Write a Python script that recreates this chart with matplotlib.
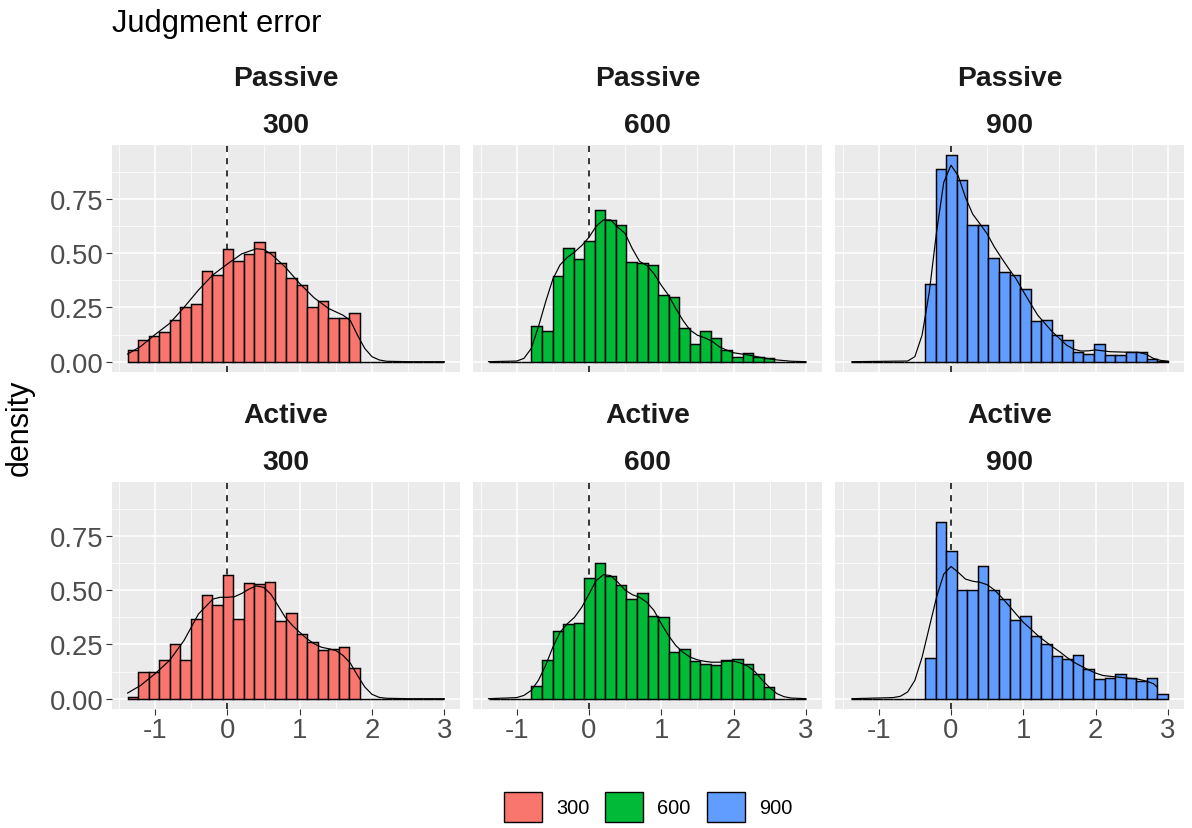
import numpy as np
import matplotlib
matplotlib.use("Agg")
import matplotlib.pyplot as plt
from matplotlib.patches import Patch

plt.rcParams['font.family'] = ['Liberation Sans', 'DejaVu Sans']
plt.rcParams['axes.unicode_minus'] = False

# histogram bins shared by all panels
BIN_START = -1.38
BIN_WIDTH = 0.146
N_BINS = 30

conditions = ['Passive', 'Active']
intervals = ['300', '600', '900']
fills = {'300': '#F8766D', '600': '#00BA38', '900': '#619CFF'}

# bar heights (density) per bin
hist_passive_300 = [0.052, 0.102, 0.119, 0.135, 0.191, 0.254, 0.266, 0.419, 0.399, 0.517,
                    0.463, 0.495, 0.549, 0.505, 0.453, 0.384, 0.355, 0.254, 0.278, 0.203,
                    0.203, 0.226, 0, 0, 0, 0, 0, 0, 0, 0]
hist_passive_600 = [0, 0, 0, 0, 0.164, 0.141, 0.396, 0.523, 0.472, 0.555,
                    0.700, 0.654, 0.630, 0.459, 0.453, 0.446, 0.307, 0.297, 0.156, 0.083,
                    0.142, 0.107, 0.055, 0.021, 0.040, 0.020, 0.017, 0, 0, 0]
hist_passive_900 = [0, 0, 0, 0, 0, 0, 0, 0.358, 0.887, 0.951,
                    0.835, 0.628, 0.628, 0.477, 0.413, 0.398, 0.335, 0.187, 0.194, 0.122,
                    0.099, 0.043, 0.035, 0.081, 0.029, 0.029, 0.044, 0.044, 0.011, 0.004]
hist_active_300 = [0.008, 0.124, 0.124, 0.178, 0.254, 0.178, 0.369, 0.478, 0.432, 0.570,
                   0.369, 0.533, 0.527, 0.539, 0.358, 0.394, 0.299, 0.260, 0.225, 0.228,
                   0.237, 0.142, 0, 0, 0, 0, 0, 0, 0, 0]
hist_active_600 = [0, 0, 0, 0, 0.057, 0.179, 0.311, 0.345, 0.348, 0.556,
                   0.623, 0.565, 0.524, 0.461, 0.485, 0.380, 0.378, 0.217, 0.230, 0.172,
                   0.158, 0.156, 0.179, 0.184, 0.161, 0.115, 0.054, 0, 0, 0]
hist_active_900 = [0, 0, 0, 0, 0, 0, 0, 0.188, 0.816, 0.678,
                   0.501, 0.501, 0.609, 0.502, 0.458, 0.363, 0.380, 0.289, 0.253, 0.198,
                   0.185, 0.202, 0.135, 0.092, 0.095, 0.115, 0.095, 0.081, 0.093, 0.020]

# density curves, read at a few x positions
dens_x_passive_300 = [-1.38, -1.2, -1.0, -0.8, -0.6, -0.4, -0.2, 0.0, 0.2, 0.4, 0.5, 0.6, 0.8,
                      1.0, 1.2, 1.4, 1.6, 1.7, 1.8, 1.9, 2.0, 2.1, 2.2, 2.5, 3.0]
dens_y_passive_300 = [0.035, 0.07, 0.125, 0.176, 0.25, 0.33, 0.40, 0.45, 0.497, 0.52, 0.517, 0.497, 0.436,
                      0.36, 0.294, 0.245, 0.214, 0.19, 0.122, 0.061, 0.023, 0.008, 0.002, 0, 0]

dens_x_passive_600 = [-1.39, -1.0, -0.9, -0.8, -0.7, -0.6, -0.5, -0.4, -0.3, -0.2, -0.1,
                      0.0, 0.1, 0.2, 0.3, 0.4, 0.5, 0.6, 0.7, 0.8, 0.9, 1.0, 1.1, 1.2, 1.3, 1.4,
                      1.5, 1.6, 1.7, 1.8, 1.9, 2.0, 2.2, 2.4, 2.6, 2.8, 3.0]
dens_y_passive_600 = [0, 0.003, 0.015, 0.06, 0.16, 0.275, 0.38, 0.446, 0.48, 0.505, 0.535,
                      0.573, 0.624, 0.653, 0.653, 0.619, 0.59, 0.52, 0.462, 0.443, 0.405, 0.352,
                      0.306, 0.245, 0.19, 0.145, 0.122, 0.11, 0.095, 0.069, 0.054, 0.041,
                      0.031, 0.018, 0.008, 0.002, 0]

dens_x_passive_900 = [-1.37, -0.6, -0.5, -0.4, -0.3, -0.2, -0.1,
                      0.0, 0.1, 0.2, 0.3, 0.4, 0.5, 0.6, 0.7, 0.8, 0.9, 1.0, 1.1, 1.2, 1.3, 1.4,
                      1.5, 1.6, 1.7, 1.8, 1.9, 2.0, 2.2, 2.4, 2.6, 2.7, 2.8, 2.9, 3.0]
dens_y_passive_900 = [0, 0.003, 0.023, 0.122, 0.321, 0.596, 0.826,
                      0.905, 0.856, 0.757, 0.68, 0.635, 0.589, 0.528, 0.477, 0.428, 0.382, 0.324,
                      0.268, 0.214, 0.176, 0.138, 0.107, 0.076, 0.057, 0.049, 0.05, 0.054,
                      0.046, 0.044, 0.043, 0.034, 0.015, 0.006, 0.002]

dens_x_active_300 = [-1.38, -1.2, -1.0, -0.8, -0.6, -0.4, -0.2, -0.1,
                     0.0, 0.1, 0.2, 0.3, 0.4, 0.5, 0.6, 0.7, 0.8, 0.9, 1.0, 1.1, 1.2, 1.3, 1.4,
                     1.5, 1.6, 1.7, 1.8, 1.9, 2.0, 2.1, 2.2, 2.5, 3.0]
dens_y_active_300 = [0.026, 0.061, 0.115, 0.176, 0.268, 0.39, 0.459, 0.467,
                     0.467, 0.47, 0.485, 0.505, 0.519, 0.513, 0.482, 0.429, 0.375, 0.337, 0.306,
                     0.276, 0.253, 0.237, 0.23, 0.222, 0.199, 0.164, 0.107, 0.054, 0.02, 0.006,
                     0.002, 0, 0]

dens_x_active_600 = [-1.39, -1.0, -0.9, -0.8, -0.7, -0.6, -0.5, -0.4, -0.3, -0.2, -0.1,
                     0.0, 0.1, 0.2, 0.3, 0.4, 0.5, 0.6, 0.7, 0.8, 0.9, 1.0, 1.1, 1.2, 1.3, 1.4,
                     1.5, 1.6, 1.7, 1.8, 1.9, 2.0, 2.1, 2.2, 2.3, 2.4, 2.5, 2.6, 2.7, 2.8, 3.0]
dens_y_active_600 = [0, 0.005, 0.015, 0.038, 0.084, 0.153, 0.237, 0.306, 0.345, 0.375, 0.421,
                     0.482, 0.544, 0.571, 0.567, 0.536, 0.5, 0.479, 0.467, 0.444, 0.406, 0.345,
                     0.291, 0.245, 0.214, 0.191, 0.179, 0.172, 0.168, 0.168, 0.173, 0.173,
                     0.164, 0.149, 0.123, 0.084, 0.051, 0.023, 0.009, 0.003, 0]

dens_x_active_900 = [-1.37, -0.8, -0.7, -0.6, -0.5, -0.4, -0.3, -0.2, -0.1,
                     0.0, 0.1, 0.2, 0.3, 0.4, 0.5, 0.6, 0.7, 0.8, 0.9, 1.0, 1.1, 1.2, 1.3, 1.4,
                     1.5, 1.6, 1.7, 1.8, 1.9, 2.0, 2.1, 2.2, 2.3, 2.4, 2.5, 2.6, 2.7, 2.8, 2.85]
dens_y_active_900 = [0, 0.005, 0.011, 0.031, 0.084, 0.191, 0.329, 0.467, 0.574,
                     0.609, 0.582, 0.551, 0.541, 0.536, 0.525, 0.501, 0.467, 0.429, 0.39, 0.352,
                     0.322, 0.291, 0.265, 0.24, 0.217, 0.191, 0.168, 0.15, 0.133, 0.118, 0.107,
                     0.103, 0.1, 0.096, 0.093, 0.089, 0.081, 0.069, 0.054]

hists = {('Passive', '300'): hist_passive_300, ('Passive', '600'): hist_passive_600,
         ('Passive', '900'): hist_passive_900, ('Active', '300'): hist_active_300,
         ('Active', '600'): hist_active_600, ('Active', '900'): hist_active_900}
dens = {('Passive', '300'): (dens_x_passive_300, dens_y_passive_300),
        ('Passive', '600'): (dens_x_passive_600, dens_y_passive_600),
        ('Passive', '900'): (dens_x_passive_900, dens_y_passive_900),
        ('Active', '300'): (dens_x_active_300, dens_y_active_300),
        ('Active', '600'): (dens_x_active_600, dens_y_active_600),
        ('Active', '900'): (dens_x_active_900, dens_y_active_900)}

W, H = 1192, 829
fig = plt.figure(figsize=(W / 100, H / 100), dpi=100)

col_left = [111.7, 473.3, 835.3]
row_top = [146, 483]
pw, ph = 348.5, 227

bin_left = BIN_START + BIN_WIDTH * np.arange(N_BINS)

for r, cond in enumerate(conditions):
    for c, iv in enumerate(intervals):
        ax = fig.add_axes([col_left[c] / W, 1 - (row_top[r] + ph) / H, pw / W, ph / H])
        ax.set_facecolor('#EBEBEB')
        for s in ax.spines.values():
            s.set_visible(False)
        ax.set_axisbelow(True)
        ax.set_xlim(-1.6, 3.22)
        ax.set_ylim(-0.0475, 0.998)
        ax.set_xticks([-1, 0, 1, 2, 3])
        ax.set_xticks([-1.5, -0.5, 0.5, 1.5, 2.5], minor=True)
        ax.set_yticks([0, 0.25, 0.5, 0.75])
        ax.set_yticks([0.125, 0.375, 0.625, 0.875], minor=True)
        ax.set_yticklabels(['0.00', '0.25', '0.50', '0.75'])
        ax.grid(which='major', color='white', linewidth=1.1)
        ax.grid(which='minor', color='white', linewidth=0.55)
        ax.tick_params(which='minor', length=0)
        ax.tick_params(which='major', length=4.4, width=0.8, color='#333333',
                       labelsize=19.8, labelcolor='#4D4D4D', pad=1.5)
        if c != 0:
            ax.tick_params(axis='y', left=False, labelleft=False)
        if r != 1:
            ax.tick_params(axis='x', bottom=False, labelbottom=False)

        ax.axvline(0, color='black', linestyle=(0, (4, 4)), linewidth=1.1, zorder=1.5)
        ax.bar(bin_left, hists[(cond, iv)], width=BIN_WIDTH, align='edge',
               color=fills[iv], edgecolor='black', linewidth=1.05, zorder=2)
        dx, dy = dens[(cond, iv)]
        ax.plot(dx, dy, color='black', linewidth=0.85, zorder=3)

        cx = (col_left[c] + pw / 2) / W
        fig.text(cx, 1 - (row_top[r] - 60.3) / H, cond, ha='center', va='baseline',
                 fontsize=20.3, fontweight='bold', color='#1A1A1A')
        fig.text(cx, 1 - (row_top[r] - 13) / H, iv, ha='center', va='baseline',
                 fontsize=20.3, fontweight='bold', color='#1A1A1A')

fig.text(112 / W, 1 - 32 / H, 'Judgment error', ha='left', va='baseline', fontsize=22.2)
fig.text(20 / W, 1 - 428 / H, 'density', ha='center', va='center', rotation=90, fontsize=22)

handles = [Patch(facecolor=fills[iv], edgecolor='black', linewidth=1.0, label=iv) for iv in intervals]
fig.legend(handles=handles, loc='center', bbox_to_anchor=(648 / W, 1 - 808 / H), ncol=3,
           frameon=False, fontsize=14.4, handlelength=1.9, handleheight=1.9,
           handletextpad=0.7, columnspacing=0.8, borderpad=0)

fig.savefig('out.png', dpi=100)
